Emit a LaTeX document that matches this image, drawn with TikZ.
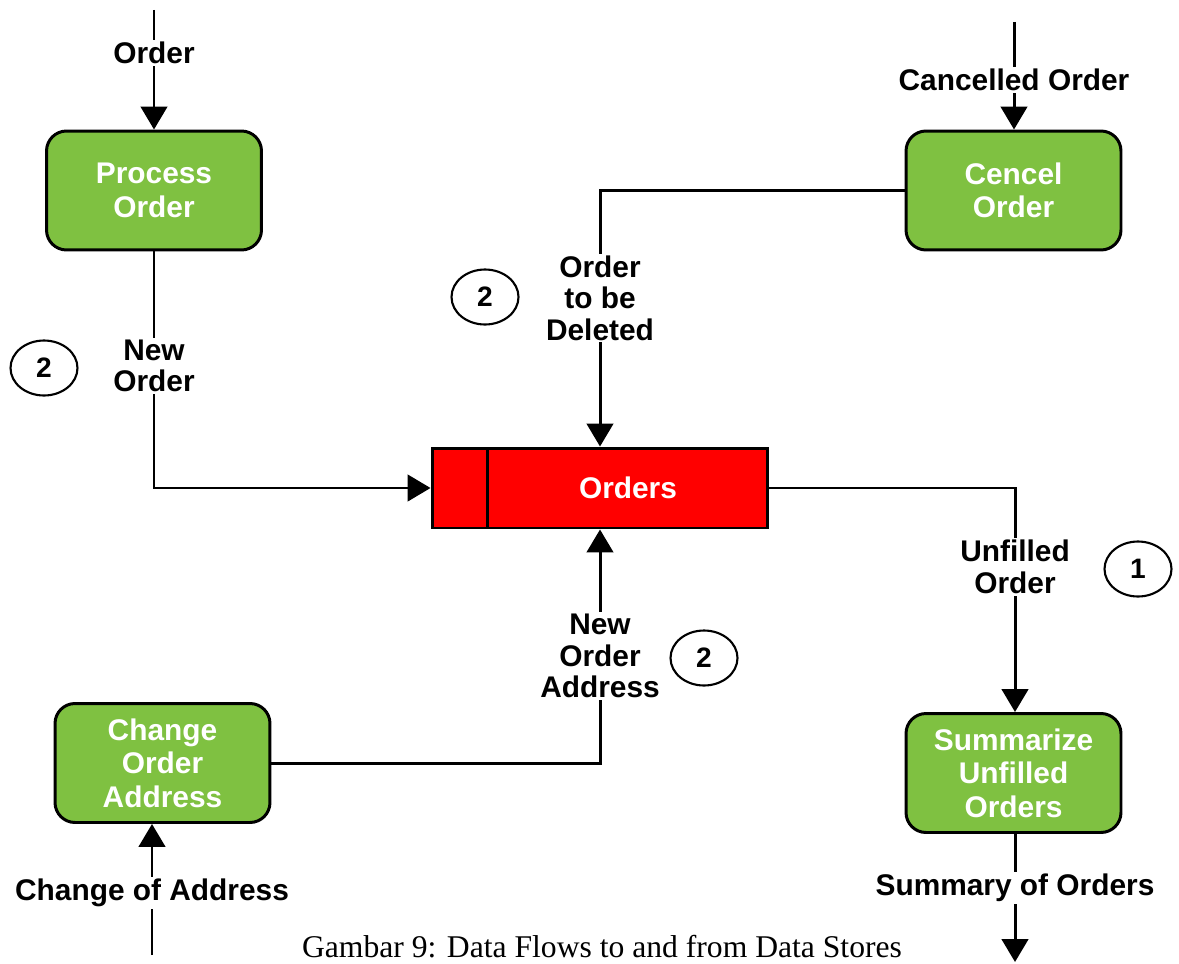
\documentclass[tikz,border=0pt]{standalone}
\usepackage{fontspec}
\setmainfont{Liberation Serif}
\newfontfamily\labfont{Liberation Sans}
\usetikzlibrary{arrows.meta,shapes.geometric}
\definecolor{procgreen}{RGB}{127,193,65}
\definecolor{storered}{RGB}{255,0,0}
\begin{document}
\begin{tikzpicture}[x=0.02cm,y=-0.02cm,
  process/.style={draw=black,line width=1.7pt,fill=procgreen,rounded corners=0.4cm,
    minimum width=4.3cm,minimum height=2.38cm,align=center,text=white,
    font=\labfont\bfseries\fontsize{17}{19}\selectfont},
  store/.style={draw=black,line width=1.7pt,fill=storered,minimum width=6.72cm,minimum height=1.6cm},
  storetext/.style={text=white,font=\labfont\bfseries\fontsize{17}{19}\selectfont},
  flow/.style={line width=1.7pt,-{Triangle[width=15pt,length=13pt]}},
  flowlabel/.style={fill=white,align=center,inner sep=1pt,
    font=\labfont\bfseries\fontsize{17}{18}\selectfont},
  marker/.style={draw=black,line width=1.2pt,ellipse,minimum width=1.34cm,minimum height=1.1cm,
    inner sep=0pt,font=\labfont\bfseries\fontsize{16}{18}\selectfont},
  caption/.style={inner sep=0pt,font=\fontsize{18}{20}\selectfont}]
  \useasboundingbox (0,0) rectangle (1179,963);

  % processes
  \node[process] (po) at (154,190.5) {Process\\Order};
  \node[process] (co) at (1013.5,190.5) {Cencel\\Order};
  \node[process] (coa) at (162.5,763) {Change\\Order\\Address};
  \node[process] (su) at (1013.5,773) {Summarize\\Unfilled\\Orders};

  % data store
  \node[store] (orders) at (600,488) {};
  \draw[line width=1.7pt] (487,447) -- (487,529);
  \node[storetext] (orderstext) at (628,488) {Orders};

  % external ends of the flows
  \coordinate (inorder) at (154,10);
  \coordinate (incancel) at (1014,22);
  \coordinate (inaddress) at (152,955);
  \coordinate (outsummary) at (1015,962);

  % flows
  \draw[flow] (inorder) -- (po.north);
  \draw[flow] (incancel) -- (incancel |- co.north);
  \draw[flow] (po.south) |- (orders.west);
  \draw[flow] (co.west) -| (orders.north);
  \draw[flow] (orders.east) -| (outsummary |- su.north);
  \draw[flow] (coa.east) -| (orders.south);
  \draw[flow] (inaddress) -- (inaddress |- coa.south);
  \draw[flow] (outsummary |- su.south) -- (outsummary);

  % flow labels
  \node[flowlabel] (lorder) at (154,53) {Order};
  \node[flowlabel] (lcancel) at (1014,80) {Cancelled Order};
  \node[flowlabel] (lneworder) at (154,366) {New\\Order};
  \node[flowlabel] (ldelete) at (600,298) {Order\\to be\\Deleted};
  \node[flowlabel] (lunfilled) at (1015,567) {Unfilled\\Order};
  \node[flowlabel] (lnewaddr) at (600,656) {New\\Order\\Address};
  \node[flowlabel] (laddress) at (152,893) {Change of Address};
  \node[flowlabel] (lsummary) at (1015,888) {Summary of Orders};

  % numbered markers
  \node[marker] (m1) at (44,368) {2};
  \node[marker] (m2) at (485,297) {2};
  \node[marker] (m3) at (1138,569) {1};
  \node[marker] (m4) at (704,658) {2};

  % caption
  \node[caption,anchor=base] (cap) at (602,957) {Gambar 9: Data Flows to and from Data Stores};
\end{tikzpicture}
\end{document}
